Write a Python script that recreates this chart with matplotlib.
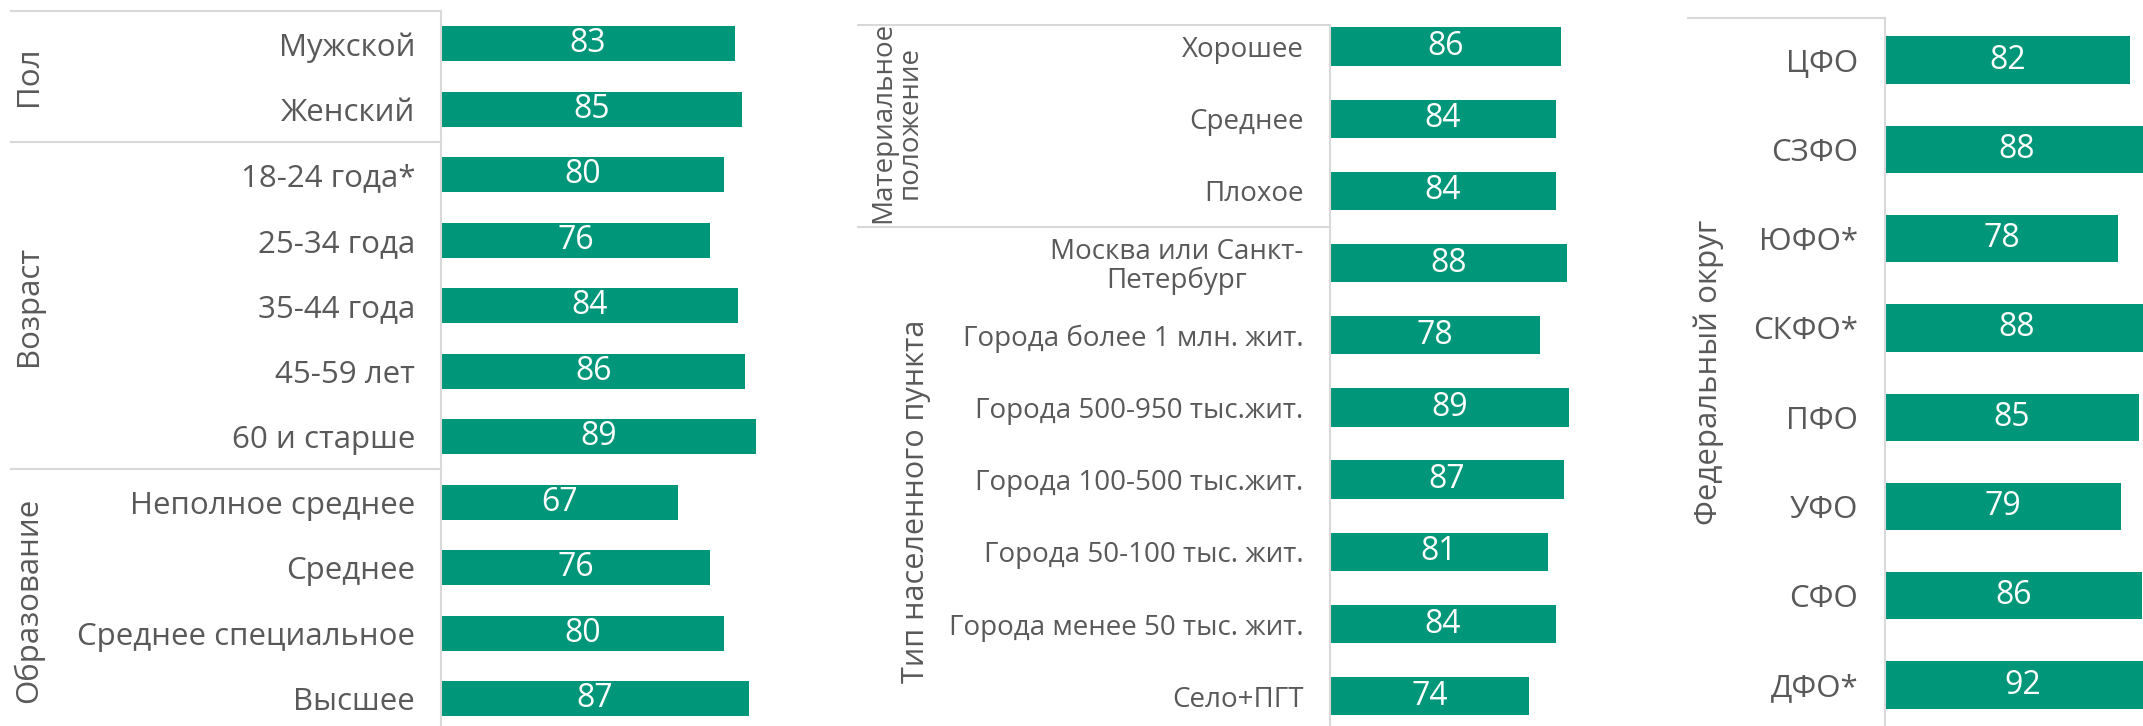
import matplotlib
matplotlib.use("Agg")
import matplotlib.pyplot as plt
from matplotlib.lines import Line2D
from matplotlib.transforms import blended_transform_factory

plt.rcParams['font.family'] = ['Open Sans', 'DejaVu Sans']

BAR_COLOR = '#009679'
TEXT_COLOR = '#595959'
LINE_COLOR = '#d9d9d9'
VAL_FS = 23

# panel 1
p1_labels = ["Мужской", "Женский",
             "18-24 года*", "25-34 года", "35-44 года", "45-59 лет", "60 и старше",
             "Неполное среднее", "Среднее", "Среднее специальное", "Высшее"]
p1_values = [83, 85, 80, 76, 84, 86, 89, 67, 76, 80, 87]
p1_groups = [("Пол", 0, 1), ("Возраст", 2, 6), ("Образование", 7, 10)]

# panel 2
p2_labels = ["Хорошее", "Среднее", "Плохое",
             "Москва или Санкт-\nПетербург", "Города более 1 млн. жит.",
             "Города 500-950 тыс.жит.", "Города 100-500 тыс.жит.",
             "Города 50-100 тыс. жит.", "Города менее 50 тыс. жит.", "Село+ПГТ"]
p2_values = [86, 84, 84, 88, 78, 89, 87, 81, 84, 74]
p2_groups = [("Материальное\nположение", 0, 2), ("Тип населенного пункта", 3, 9)]

# panel 3
p3_labels = ["ЦФО", "СЗФО", "ЮФО*", "СКФО*", "ПФО", "УФО", "СФО", "ДФО*"]
p3_values = [82, 88, 78, 88, 85, 79, 86, 92]
p3_groups = [("Федеральный округ", 0, 7)]

W, H = 1568.0, 531.0  # layout measured on the shrunk reference


def panel(fig, labels, values, groups, bar_left, unit, row0, step,
          top_y, line_left, group_x, label_fs, group_fs, group_shift=None):
    n = len(labels)
    y_top = (top_y - row0) / step
    y_bot = (H - row0) / step
    ax = fig.add_axes([bar_left / W, 0, unit * 100 / W, (H - top_y) / H])
    ypos = list(range(n))
    bars = ax.barh(ypos, values, height=0.53, color=BAR_COLOR)
    for b, v in zip(bars, values):
        ax.text(b.get_width() / 2, b.get_y() + b.get_height() / 2, str(v),
                ha='center', va='center', color='white', fontsize=VAL_FS)
    ax.set_xlim(0, 100)
    ax.set_ylim(y_bot, y_top)
    ax.set_yticks(ypos)
    ax.set_yticklabels(labels, fontsize=label_fs, color=TEXT_COLOR,
                       multialignment='center', linespacing=1.0)
    ax.tick_params(axis='y', length=0, pad=19)
    ax.set_xticks([])
    for s in ['top', 'right', 'bottom']:
        ax.spines[s].set_visible(False)
    ax.spines['left'].set_color(LINE_COLOR)
    ax.spines['left'].set_linewidth(1.5)

    tr = blended_transform_factory(fig.transFigure, ax.transData)
    seps = [y_top] + [g[1] - 0.5 for g in groups[1:]]
    for yv in seps:
        fig.add_artist(Line2D([line_left / W, bar_left / W], [yv, yv],
                              transform=tr, color=LINE_COLOR, lw=1.5))
    for i, (name, a, b) in enumerate(groups):
        yc = (a + b) / 2
        if group_shift is not None:
            yc += group_shift[i]
        fig.text(group_x[i] / W, yc, name, transform=tr, rotation=90,
                 ha='center', va='center', fontsize=group_fs[i],
                 color=TEXT_COLOR, multialignment='center', linespacing=0.95)
    return ax


fig = plt.figure(figsize=(21.43, 7.26), dpi=100)

panel(fig, p1_labels, p1_values, p1_groups, bar_left=323, unit=2.584,
      row0=32, step=47.9, top_y=8, line_left=8, group_x=[21, 21, 21],
      label_fs=22.5, group_fs=[22.5, 22.5, 22.5])
panel(fig, p2_labels, p2_values, p2_groups, bar_left=973, unit=1.97,
      row0=34, step=52.8, top_y=18, line_left=628, group_x=[656, 670],
      label_fs=20, group_fs=[20, 22], group_shift=[0.05, 0.3])
panel(fig, p3_labels, p3_values, p3_groups, bar_left=1379, unit=2.19,
      row0=44, step=65.3, top_y=13, line_left=1235, group_x=[1250],
      label_fs=22.5, group_fs=[22.5])

plt.savefig("out.png", dpi=100)
